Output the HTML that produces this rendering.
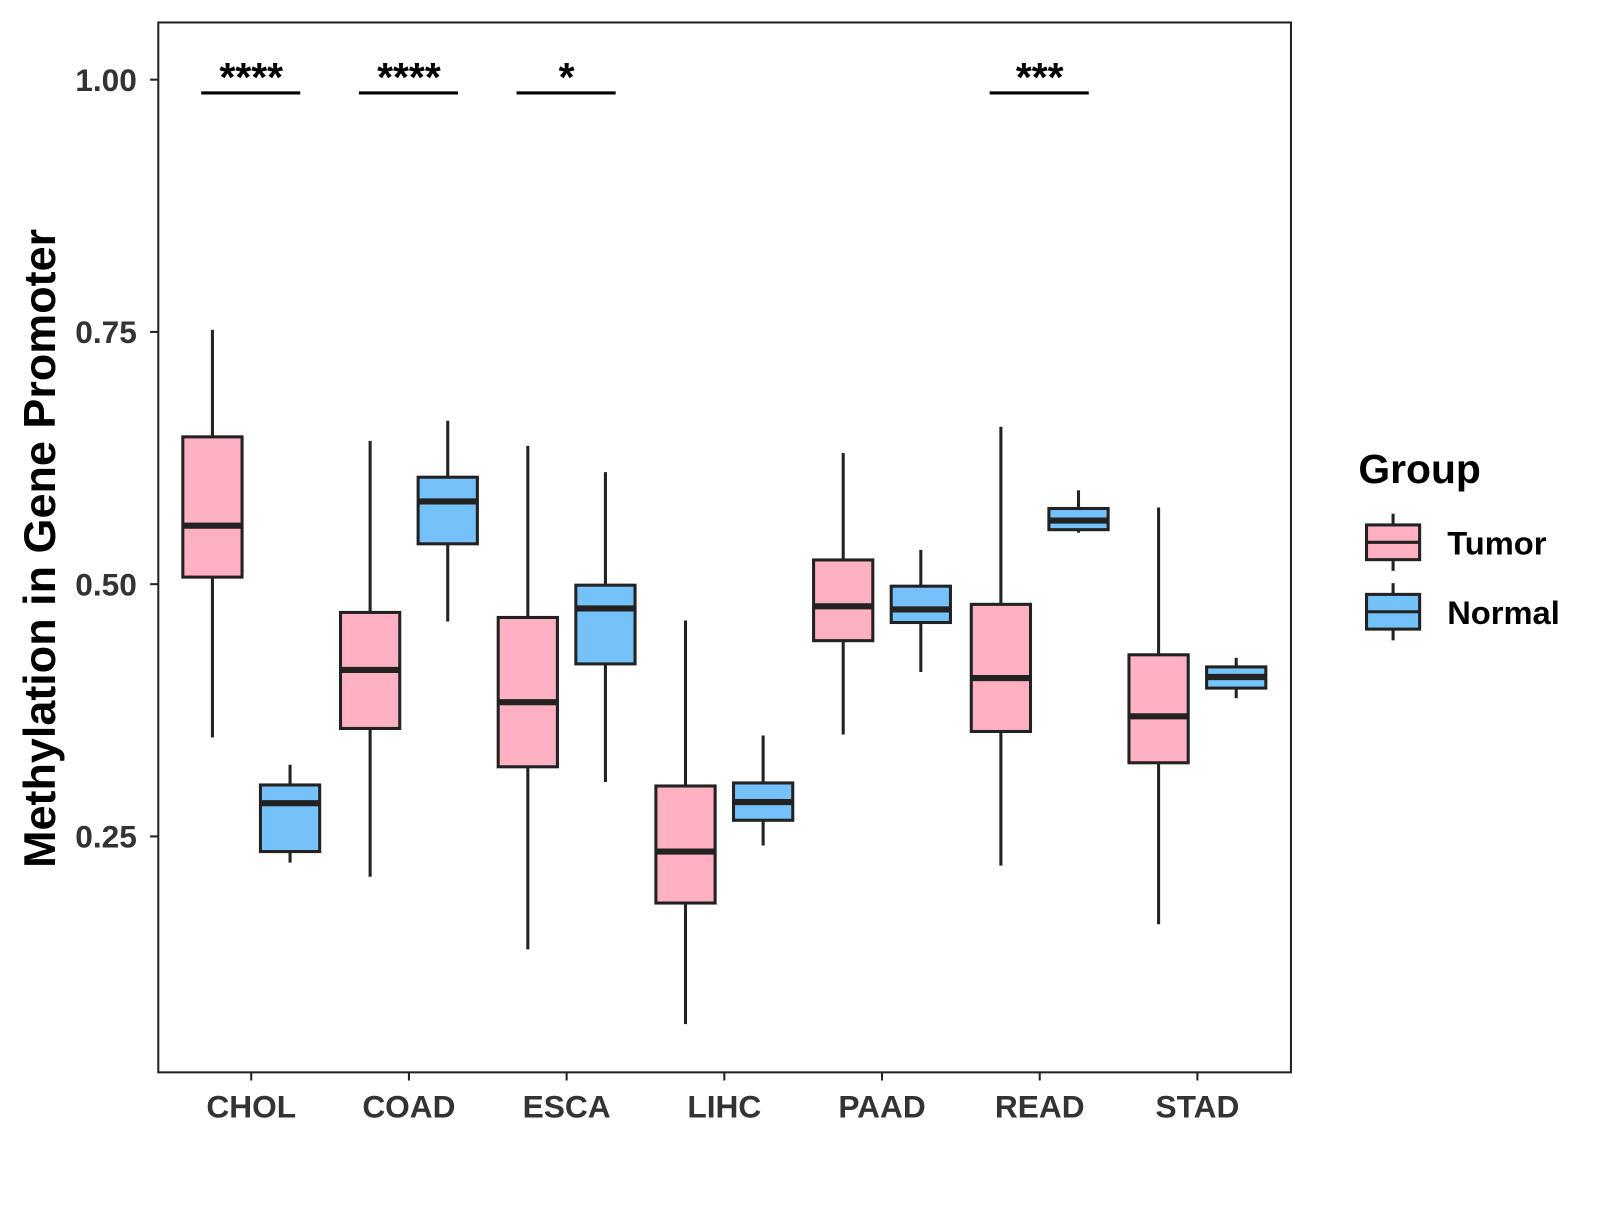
<!DOCTYPE html>
<html><head><meta charset="utf-8"><style>body{margin:0;background:#fff}svg text{font-family:"Liberation Sans",Arial,sans-serif;font-weight:bold}</style></head>
<body>
<svg id="chart" width="1600" height="1200" viewBox="0 0 1566.6 1175" preserveAspectRatio="none" xmlns="http://www.w3.org/2000/svg">
<rect x="155" y="22" width="1109" height="1028" fill="#fff" stroke="#222" stroke-width="2"/>
<g id="marks"></g>
<text transform="translate(54,537) rotate(-90)" text-anchor="middle" font-size="44" fill="#000">Methylation in Gene Promoter</text>
<text x="1330" y="473" font-size="40" fill="#000">Group</text>
<g>
<line x1="1364" y1="503" x2="1364" y2="559" stroke="#222" stroke-width="3"/>
<rect x="1338" y="514" width="52" height="34" fill="#FFB0C1" stroke="#222" stroke-width="3"/>
<line x1="1338" y1="531" x2="1390" y2="531" stroke="#222" stroke-width="3"/>
<text x="1417" y="543" font-size="32" fill="#000">Tumor</text></g>
<g>
<line x1="1364" y1="571" x2="1364" y2="627" stroke="#222" stroke-width="3"/>
<rect x="1338" y="582" width="52" height="34" fill="#75C1FA" stroke="#222" stroke-width="3"/>
<line x1="1338" y1="599" x2="1390" y2="599" stroke="#222" stroke-width="3"/>
<text x="1417" y="611" font-size="32" fill="#000">Normal</text></g>
</svg>
<script>
const categories=["CHOL","COAD","ESCA","LIHC","PAAD","READ","STAD"];
const tumorLow=[0.348,0.210,0.138,0.064,0.351,0.221,0.163];
const tumorQ1=[0.507,0.357,0.319,0.184,0.444,0.354,0.323];
const tumorMed=[0.558,0.415,0.383,0.235,0.478,0.407,0.369];
const tumorQ3=[0.646,0.472,0.467,0.300,0.524,0.480,0.430];
const tumorHigh=[0.752,0.642,0.637,0.464,0.630,0.656,0.576];
const normalLow=[0.224,0.463,0.304,0.241,0.413,0.551,0.387];
const normalQ1=[0.235,0.540,0.421,0.266,0.462,0.554,0.397];
const normalMed=[0.283,0.582,0.476,0.284,0.475,0.563,0.408];
const normalQ3=[0.301,0.606,0.499,0.303,0.498,0.575,0.418];
const normalHigh=[0.321,0.662,0.611,0.350,0.534,0.593,0.427];
const signif=["****","****","*","","","***",""];
const yTicks=[0.25,0.50,0.75,1.00];
const yTickLabels=["0.25","0.50","0.75","1.00"];
const NS="http://www.w3.org/2000/svg";
const g=document.getElementById('marks');
function y(v){return 78+(1-v)*988;}
function x(i){return 246+i*154.4;}
function mk(t,a,p){const e=document.createElementNS(NS,t);for(const k in a)e.setAttribute(k,a[k]);(p||g).appendChild(e);return e;}
yTicks.forEach((v,i)=>{
 const l=mk('line',{x1:147,x2:155,y1:y(v),y2:y(v),stroke:'#222','stroke-width':2});
 
 
 const t=mk('text',{x:134,y:y(v)+11,'text-anchor':'end','font-size':31,fill:'#333'});
 t.textContent=yTickLabels[i];
 
 
});
function box(cx,lo,q1,md,q3,hi,fill,name){
 const gg=mk('g',{});
 
 
 mk('line',{x1:cx,x2:cx,y1:y(hi),y2:y(lo),stroke:'#222','stroke-width':3},gg);
 mk('rect',{x:cx-29,y:y(q3),width:58,height:y(q1)-y(q3),fill:fill,stroke:'#222','stroke-width':3},gg);
 mk('line',{x1:cx-29,x2:cx+29,y1:y(md),y2:y(md),stroke:'#222','stroke-width':6},gg);
}
categories.forEach((c,i)=>{
 const cx=x(i);
 box(cx-38,tumorLow[i],tumorQ1[i],tumorMed[i],tumorQ3[i],tumorHigh[i],'#FFB0C1','box-tumor-'+c.toLowerCase());
 box(cx+38,normalLow[i],normalQ1[i],normalMed[i],normalQ3[i],normalHigh[i],'#75C1FA','box-normal-'+c.toLowerCase());
 const tk=mk('line',{x1:cx,x2:cx,y1:1050,y2:1058,stroke:'#222','stroke-width':2});
 
 
 const t=mk('text',{x:cx,y:1094,'text-anchor':'middle','font-size':31,fill:'#333'});
 t.textContent=c;
 
 
 if(signif[i]){
  const l=mk('line',{x1:cx-49,x2:cx+48,y1:91,y2:91,stroke:'#000','stroke-width':3});
  
  
  const s=mk('text',{x:cx,y:89,'text-anchor':'middle','font-size':40,fill:'#000'});
  s.textContent=signif[i];
  
  
 }
});
</script>
</body></html>
